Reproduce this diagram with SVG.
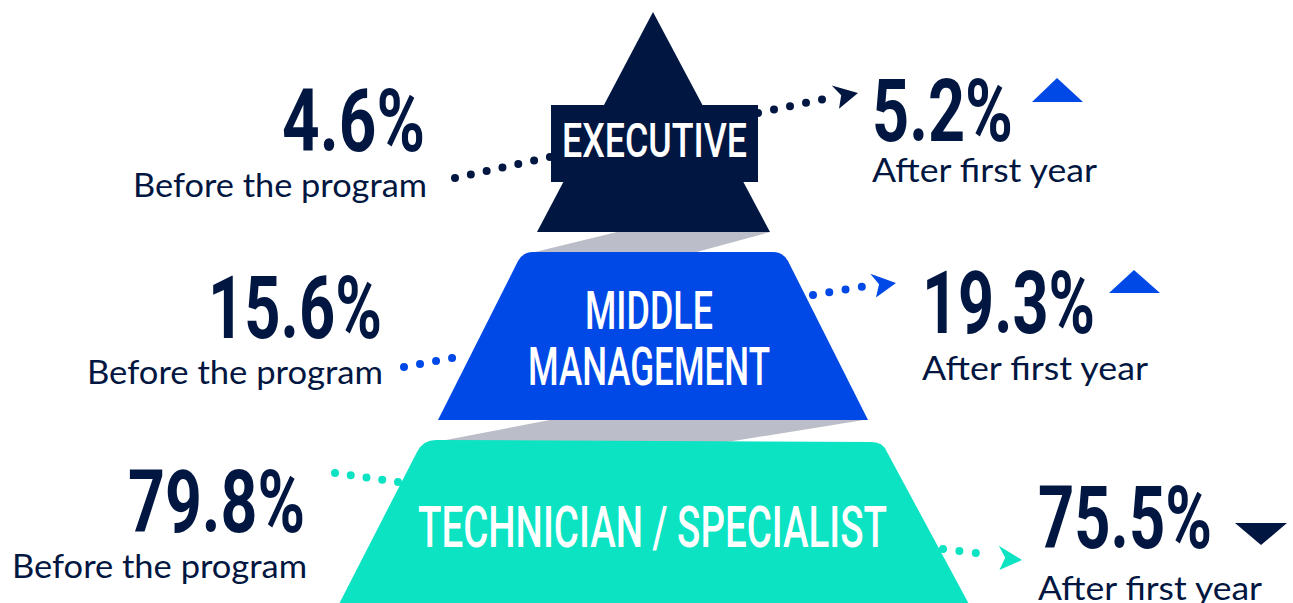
<svg xmlns="http://www.w3.org/2000/svg" width="1293" height="603" viewBox="0 0 1293 603">
<style>
.num{font-family:Roboto,"Liberation Sans",sans-serif;font-weight:700;font-size:88px;fill:#011640}
.sub{font-family:Lato,"Open Sans",sans-serif;font-weight:400;font-size:33px;fill:#011640}
.lbl{font-family:Roboto,"Liberation Sans",sans-serif;font-weight:500;fill:#fff}
.dots{fill:none;stroke-width:8;stroke-linecap:round}
.navy{fill:#011640}.blue{fill:#0049E6}.teal{fill:#0BE3C3}.gray{fill:#BBBDC9}
</style>
<defs>
<path id="ah" d="M0,0 L-25,-11 L-17,0 L-21,13 Z"/>
</defs>
<rect width="1293" height="603" fill="#fff"/>
<g id="connectors">
<path class="dots" stroke="#011640" stroke-dasharray="0 16.2" d="M455,178 L550,157"/>
<path class="dots" stroke="#011640" stroke-dasharray="0 16.36" d="M758,113 L838,96"/>
<use href="#ah" fill="#011640" transform="translate(858,93) rotate(-8)"/>
<path class="dots" stroke="#0049E6" stroke-dasharray="0 16.3" d="M404,367 L468,355"/>
<path class="dots" stroke="#0049E6" stroke-dasharray="0 16.5" d="M813,295 L878,284"/>
<use href="#ah" fill="#0049E6" transform="translate(896,283) rotate(-4)"/>
<path class="dots" stroke="#0BE3C3" stroke-dasharray="0 15.9" d="M335,473 L398,482"/>
<path class="dots" stroke="#0BE3C3" stroke-dasharray="0 16.5" d="M943,549 L992,555"/>
<use href="#ah" fill="#0BE3C3" transform="translate(1022,560) rotate(8)"/>
</g>
<g id="bands">
<polygon class="gray" points="617,232 770,232 693,253 531,253"/>
<polygon class="gray" points="555,419 870,419 721,443 430,443"/>
</g>
<g id="executive">
<polygon class="navy" points="653,12 770,232 537,232"/>
<rect class="navy" x="551" y="105" width="207" height="77"/>
<text class="lbl" x="562" y="157" font-size="49" textLength="185" lengthAdjust="spacingAndGlyphs">EXECUTIVE</text>
</g>
<g id="middle">
<path class="blue" d="M438,420 L518,261 Q523,252 533,252 L773,252 Q783,252 788,261 L868,420 Z"/>
<text class="lbl" x="585" y="329" font-size="54" textLength="128" lengthAdjust="spacingAndGlyphs">MIDDLE</text>
<text class="lbl" x="528" y="385" font-size="54" textLength="242" lengthAdjust="spacingAndGlyphs">MANAGEMENT</text>
</g>
<g id="technician">
<path class="teal" d="M338,606 L417,452 Q423,440 436,440 L872,442 Q883,442 887,452 L970,606 Z"/>
<text class="lbl" x="418" y="547" font-size="58" textLength="469" lengthAdjust="spacingAndGlyphs">TECHNICIAN / SPECIALIST</text>
</g>
<g id="exec-before">
<text class="num" x="282" y="151" textLength="143" lengthAdjust="spacingAndGlyphs">4.6%</text>
<text class="sub" x="133" y="197" textLength="294" lengthAdjust="spacingAndGlyphs">Before the program</text>
</g>
<g id="exec-after">
<text class="num" x="872" y="141" textLength="141" lengthAdjust="spacingAndGlyphs">5.2%</text>
<text class="sub" x="872" y="182" textLength="225" lengthAdjust="spacingAndGlyphs">After first year</text>
<polygon class="blue" points="1032,102 1083,102 1057,78"/>
</g>
<g id="middle-before">
<text class="num" x="208" y="338" textLength="174" lengthAdjust="spacingAndGlyphs">15.6%</text>
<text class="sub" x="87" y="384" textLength="296" lengthAdjust="spacingAndGlyphs">Before the program</text>
</g>
<g id="middle-after">
<text class="num" x="922" y="333" textLength="173" lengthAdjust="spacingAndGlyphs">19.3%</text>
<text class="sub" x="922" y="380" textLength="226" lengthAdjust="spacingAndGlyphs">After first year</text>
<polygon class="blue" points="1109,293 1160,293 1134,270"/>
</g>
<g id="tech-before">
<text class="num" x="128" y="532" textLength="177" lengthAdjust="spacingAndGlyphs">79.8%</text>
<text class="sub" x="12" y="578" textLength="295" lengthAdjust="spacingAndGlyphs">Before the program</text>
</g>
<g id="tech-after">
<text class="num" x="1038" y="548" textLength="174" lengthAdjust="spacingAndGlyphs">75.5%</text>
<text class="sub" x="1038" y="600" textLength="224" lengthAdjust="spacingAndGlyphs">After first year</text>
<polygon class="navy" points="1235,523 1287,523 1261,545"/>
</g>
</svg>
